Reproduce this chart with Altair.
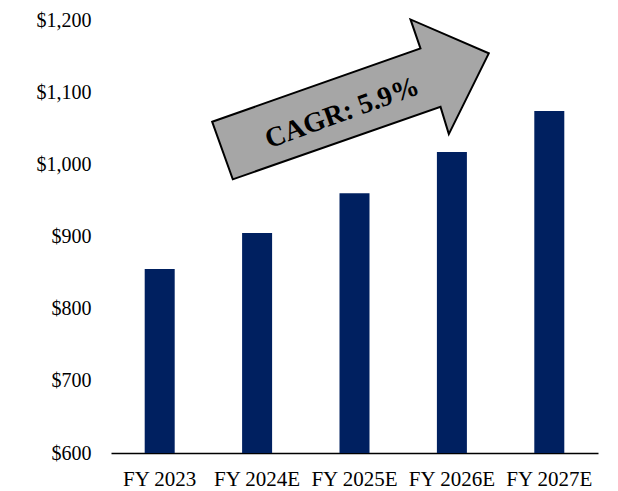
import altair as alt
import pandas as pd

categories = ["FY 2023", "FY 2024E", "FY 2025E", "FY 2026E", "FY 2027E"]
values = [855, 905, 960, 1017, 1074]
y_ticks = [600, 700, 800, 900, 1000, 1100, 1200]

cagr_label = "CAGR: 5.9%"
arrow_anchor_cat = ["FY 2025E"]
arrow_anchor_val = [1090]
label_anchor_val = [1077]

FONT = "Liberation Serif"

df = pd.DataFrame({"cat": categories, "val": values})
arrow_df = pd.DataFrame({"cat": arrow_anchor_cat, "val": arrow_anchor_val})
label_df = pd.DataFrame({"cat": arrow_anchor_cat, "val": label_anchor_val, "txt": [cagr_label]})

arrow_path = ("M -1.029 0.162 L 0.477 -0.369 L 0.405 -0.578 L 0.971 -0.333 "
              "L 0.682 0.251 L 0.622 0.054 L -0.880 0.578 Z")

x_enc = alt.X("cat:N", sort=categories, title=None,
              scale=alt.Scale(paddingInner=0.0, paddingOuter=0.0),
              axis=alt.Axis(labelAngle=0, ticks=False, domain=True, domainColor="black",
                            domainWidth=1.5, labelFont=FONT, labelFontSize=21,
                            labelColor="black", labelPadding=15, grid=False,
                            labelOverlap=False))
y_scale = alt.Scale(domain=[600, 1200], nice=False, zero=False)

bars = alt.Chart(df).mark_bar(size=30, color="#002060").encode(
    x=x_enc,
    y=alt.Y("val:Q", scale=y_scale, title=None,
            axis=alt.Axis(values=y_ticks, format="$,.0f", domain=False, ticks=False,
                          grid=False, labelFont=FONT, labelFontSize=20,
                          labelColor="black", labelPadding=20)),
    y2=alt.datum(600),
)

arrow = alt.Chart(arrow_df).mark_point(
    shape=arrow_path, size=76508, filled=True, fill="#A6A6A6", stroke="black",
    strokeWidth=2, opacity=1, fillOpacity=1, strokeOpacity=1
).encode(
    x=alt.X("cat:N", sort=categories),
    y=alt.Y("val:Q", scale=y_scale),
)

label = alt.Chart(label_df).mark_text(
    angle=340, fontSize=28, fontWeight="bold", font=FONT, color="black",
    dx=-13, align="center", baseline="middle"
).encode(
    x=alt.X("cat:N", sort=categories),
    y=alt.Y("val:Q", scale=y_scale),
    text="txt:N",
)

chart = alt.layer(bars, arrow, label).properties(
    width=487, height=433,
    background="white",
    autosize=alt.AutoSizeParams(type="none"),
    padding={"left": 103, "top": 12, "right": 12, "bottom": 38},
).configure_view(stroke=None)

chart.save("out.html", embed_options={"renderer": "svg", "actions": False})
